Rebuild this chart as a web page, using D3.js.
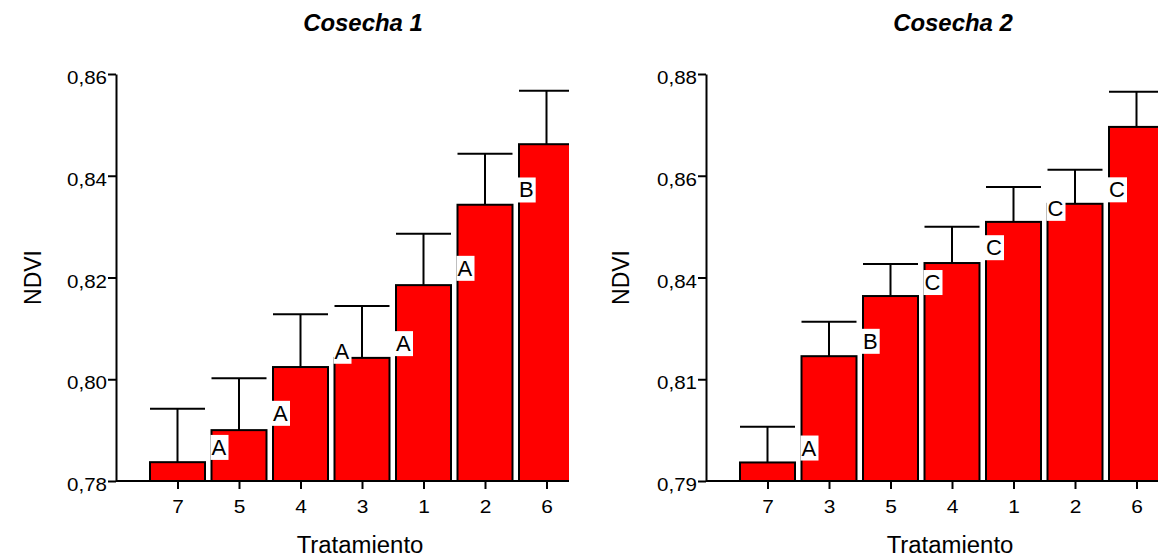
<!DOCTYPE html>
<html>
<head>
<meta charset="utf-8">
<script src="https://cdn.jsdelivr.net/npm/d3@7"></script>
<style>
html,body{margin:0;padding:0;background:#fff;}
svg{display:block;}
text{font-family:"Liberation Sans", Arial, sans-serif;fill:#000;}
</style>
</head>
<body>
<svg id="chart" width="1158" height="558"></svg>
<script>
// ---- data ----
const titles = ["Cosecha 1", "Cosecha 2"];
const categories1 = ["7", "5", "4", "3", "1", "2", "6"];
const means1 = [0.7837, 0.7900, 0.8024, 0.8042, 0.8185, 0.8343, 0.8462];
const errors1 = [0.0105, 0.0102, 0.0104, 0.0102, 0.0101, 0.0100, 0.0105];
const letters1 = ["", "A", "A", "A", "A", "A", "B"];
const letterValues1 = [null, 0.7867, 0.7934, 0.8056, 0.8071, 0.8219, 0.8373];
const yDomain1 = [0.78, 0.86];
const yTicks1 = [0.78, 0.80, 0.82, 0.84, 0.86];
const yTickLabels1 = ["0,78", "0,80", "0,82", "0,84", "0,86"];

const categories2 = ["7", "3", "5", "4", "1", "2", "6"];
const means2 = [0.7941, 0.8176, 0.8309, 0.8382, 0.8473, 0.8513, 0.8683];
const errors2 = [0.0079, 0.0076, 0.0071, 0.0080, 0.0077, 0.0075, 0.0078];
const letters2 = ["", "A", "B", "C", "C", "C", "C"];
const letterValues2 = [null, 0.7974, 0.8210, 0.8340, 0.8417, 0.8504, 0.8545];
const yDomain2 = [0.79, 0.88];
const yTicks2 = [0.79, 0.8125, 0.835, 0.8575, 0.88];
const yTickLabels2 = ["0,79", "0,81", "0,84", "0,86", "0,88"];

const xTitle = "Tratamiento";
const yTitle = "NDVI";

// ---- layout ----
const svg = d3.select("#chart");
const yTop = 74, yBottom = 481;
const step = 61.5, barW = 55;

const panels = [
  {axisX: 116, clipRight: 569, title: titles[0], cats: categories1, means: means1, errs: errors1,
   letters: letters1, letterVals: letterValues1, dom: yDomain1, ticks: yTicks1, tickLabels: yTickLabels1, yTitleX: 32},
  {axisX: 706, clipRight: 1158, title: titles[1], cats: categories2, means: means2, errs: errors2,
   letters: letters2, letterVals: letterValues2, dom: yDomain2, ticks: yTicks2, tickLabels: yTickLabels2, yTitleX: 620}
];

function stretch(sel, k) {
  sel.each(function() {
    const L = this.getComputedTextLength();
    d3.select(this).attr("textLength", L * k).attr("lengthAdjust", "spacingAndGlyphs");
  });
}

panels.forEach((p, pi) => {
  const y = d3.scaleLinear().domain(p.dom).range([yBottom, yTop]);
  const x = d3.scalePoint().domain(p.cats).range([p.axisX + step, p.axisX + step * p.cats.length]);
  const plotRight = p.axisX + step * (p.cats.length + 1);

  const clipId = "clip" + pi;
  svg.append("clipPath").attr("id", clipId)
    .append("rect").attr("x", p.axisX - 20).attr("y", 0)
    .attr("width", p.clipRight - (p.axisX - 20)).attr("height", 558);

  const g = svg.append("g").attr("clip-path", `url(#${clipId})`);

  // error bars
  const eb = g.selectAll("g.eb").data(p.cats).join("g").attr("class", "eb");
  eb.append("line")
    .attr("x1", d => x(d)).attr("x2", d => x(d))
    .attr("y1", (d, i) => y(p.means[i])).attr("y2", (d, i) => y(p.means[i] + p.errs[i]))
    .attr("stroke", "#000").attr("stroke-width", 2);
  eb.append("line")
    .attr("x1", d => x(d) - barW / 2).attr("x2", d => x(d) + barW / 2)
    .attr("y1", (d, i) => y(p.means[i] + p.errs[i])).attr("y2", (d, i) => y(p.means[i] + p.errs[i]))
    .attr("stroke", "#000").attr("stroke-width", 2);

  // bars
  g.selectAll("rect.bar").data(p.cats).join("rect").attr("class", "bar")
    .attr("x", d => x(d) - barW / 2).attr("width", barW)
    .attr("y", (d, i) => y(p.means[i])).attr("height", (d, i) => y(p.dom[0]) - y(p.means[i]))
    .attr("fill", "#ff0000").attr("stroke", "#000").attr("stroke-width", 2);

  // x axis line
  g.append("line").attr("x1", p.axisX).attr("x2", plotRight)
    .attr("y1", yBottom).attr("y2", yBottom).attr("stroke", "#000").attr("stroke-width", 2);

  // x axis ticks & labels
  const xa = svg.append("g").attr("transform", `translate(0,${yBottom})`)
    .call(d3.axisBottom(x).tickSize(8).tickSizeOuter(0).tickPadding(11));
  xa.select(".domain").remove();
  xa.selectAll(".tick line").attr("stroke", "#000").attr("stroke-width", 2);
  xa.selectAll(".tick text").attr("font-size", 19).attr("font-family", "Liberation Sans, Arial, sans-serif").call(stretch, 1.1);

  // y axis
  const ya = svg.append("g").attr("transform", `translate(${p.axisX},0)`)
    .call(d3.axisLeft(y).tickValues(p.ticks).tickFormat((d, i) => p.tickLabels[i]).tickSize(8).tickSizeOuter(0).tickPadding(1));
  ya.select(".domain").attr("stroke", "#000").attr("stroke-width", 2);
  ya.selectAll(".tick line").attr("stroke", "#000").attr("stroke-width", 2);
  ya.selectAll(".tick text").attr("font-size", 19).attr("dy", "0.5em")
    .attr("font-family", "Liberation Sans, Arial, sans-serif").call(stretch, 1.08);

  // letters
  const lg = svg.append("g");
  p.cats.forEach((c, i) => {
    if (!p.letters[i]) return;
    const lx = x(c) - barW / 2;
    const cy = y(p.letterVals[i]);
    const t = lg.append("text").attr("x", lx).attr("y", cy + 8)
      .attr("font-size", 22).text(p.letters[i]);
    const bb = t.node().getBBox();
    lg.insert("rect", function() { return t.node(); })
      .attr("x", bb.x - 1).attr("y", bb.y).attr("width", bb.width + 3).attr("height", bb.height)
      .attr("fill", "#fff");
  });

  // titles
  const cx = (p.axisX + plotRight) / 2;
  svg.append("text").attr("x", cx + 1).attr("y", 31).attr("text-anchor", "middle")
    .attr("font-size", 23).attr("font-weight", "bold").attr("font-style", "italic")
    .text(p.title).call(stretch, 1.04);
  svg.append("text").attr("x", cx - 2).attr("y", 553).attr("text-anchor", "middle")
    .attr("font-size", 23).text(xTitle).call(stretch, 1.04);
  svg.append("text").attr("transform", `translate(${p.yTitleX + 9},${(yTop + yBottom) / 2}) rotate(-90)`)
    .attr("text-anchor", "middle").attr("font-size", 23).text(yTitle);
});
</script>
</body>
</html>
